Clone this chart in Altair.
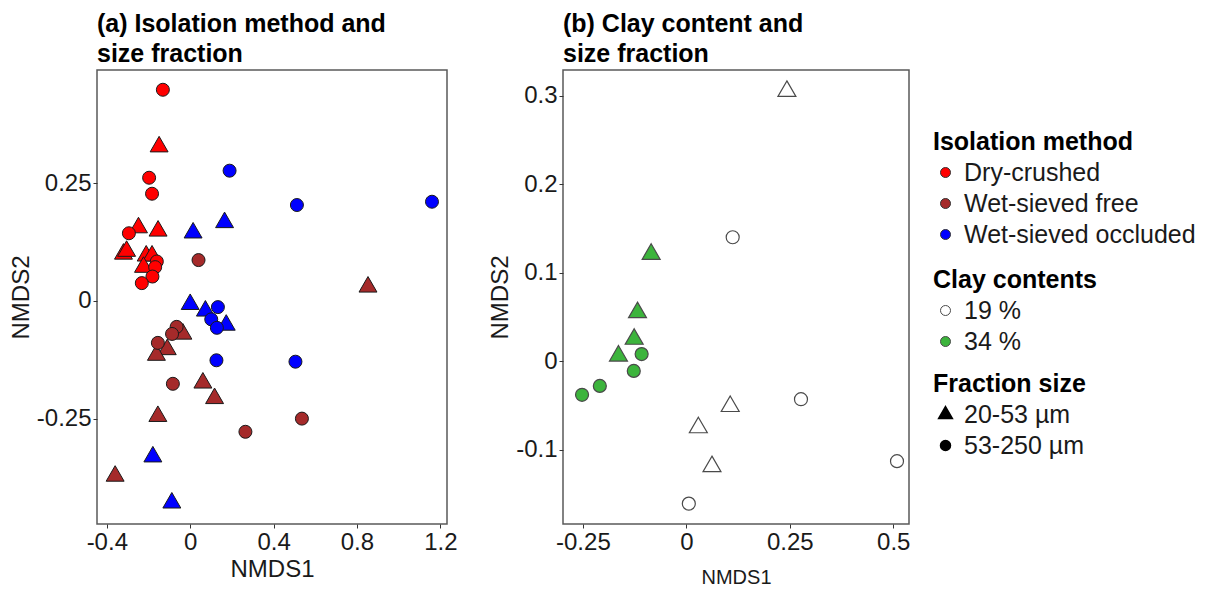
import altair as alt
import pandas as pd

FONT = "Liberation Sans"

METHODS = ["Dry-crushed", "Wet-sieved free", "Wet-sieved occluded"]
METHOD_COLORS = ["#FF0000", "#A52A2A", "#0000FF"]
FRACTIONS = ["20-53 µm", "53-250 µm"]
CLAYS = ["19 %", "34 %"]
CLAY_COLORS = ["#FFFFFF", "#3CB43C"]

# ---- panel (a): isolation method x size fraction ----
DC_TRI_X = [-0.149, -0.248, -0.154, -0.320, -0.305, -0.211, -0.183, -0.224]
DC_TRI_Y = [0.328, 0.156, 0.149, 0.100, 0.106, 0.096, 0.096, 0.072]
DC_CIR_X = [-0.131, -0.197, -0.183, -0.294, -0.160, -0.168, -0.181, -0.232]
DC_CIR_Y = [0.449, 0.262, 0.228, 0.144, 0.084, 0.072, 0.052, 0.038]
WF_TRI_X = [-0.035, -0.110, -0.162, 0.061, 0.117, -0.155, -0.360, 0.853]
WF_TRI_Y = [-0.070, -0.103, -0.115, -0.174, -0.207, -0.245, -0.372, 0.030]
WF_CIR_X = [0.040, -0.065, -0.087, -0.155, -0.083, 0.265, 0.536]
WF_CIR_Y = [0.087, -0.055, -0.070, -0.089, -0.176, -0.278, -0.250]
WO_TRI_X = [0.014, 0.165, 0.000, 0.073, 0.173, -0.179, -0.088]
WO_TRI_Y = [0.145, 0.167, -0.007, -0.021, -0.051, -0.331, -0.429]
WO_CIR_X = [0.189, 0.512, 1.160, 0.133, 0.101, 0.128, 0.126, 0.505]
WO_CIR_Y = [0.277, 0.204, 0.211, -0.013, -0.039, -0.057, -0.126, -0.129]

# ---- panel (b): clay content x size fraction ----
C19_TRI_X = [0.243, 0.106, 0.029, 0.062]
C19_TRI_Y = [0.305, -0.051, -0.075, -0.119]
C19_CIR_X = [0.112, 0.277, 0.509, 0.006]
C19_CIR_Y = [0.140, -0.043, -0.113, -0.161]
C34_TRI_X = [-0.085, -0.118, -0.126, -0.164]
C34_TRI_Y = [0.121, 0.055, 0.025, 0.006]
C34_CIR_X = [-0.108, -0.127, -0.209, -0.252]
C34_CIR_Y = [0.008, -0.011, -0.028, -0.038]

A_X_TICKS = [-0.4, 0, 0.4, 0.8, 1.2]
A_Y_TICKS = [-0.25, 0, 0.25]
B_X_TICKS = [-0.25, 0, 0.25, 0.5]
B_Y_TICKS = [-0.1, 0, 0.1, 0.2, 0.3]


def rows(xs, ys, **kw):
    return [dict(x=x, y=y, **kw) for x, y in zip(xs, ys)]


df_a = pd.DataFrame(
    rows(DC_TRI_X, DC_TRI_Y, method=METHODS[0], fraction=FRACTIONS[0])
    + rows(DC_CIR_X, DC_CIR_Y, method=METHODS[0], fraction=FRACTIONS[1])
    + rows(WF_TRI_X, WF_TRI_Y, method=METHODS[1], fraction=FRACTIONS[0])
    + rows(WF_CIR_X, WF_CIR_Y, method=METHODS[1], fraction=FRACTIONS[1])
    + rows(WO_TRI_X, WO_TRI_Y, method=METHODS[2], fraction=FRACTIONS[0])
    + rows(WO_CIR_X, WO_CIR_Y, method=METHODS[2], fraction=FRACTIONS[1])
)
df_b = pd.DataFrame(
    rows(C19_TRI_X, C19_TRI_Y, clay=CLAYS[0], fraction=FRACTIONS[0])
    + rows(C19_CIR_X, C19_CIR_Y, clay=CLAYS[0], fraction=FRACTIONS[1])
    + rows(C34_TRI_X, C34_TRI_Y, clay=CLAYS[1], fraction=FRACTIONS[0])
    + rows(C34_CIR_X, C34_CIR_Y, clay=CLAYS[1], fraction=FRACTIONS[1])
)

TRI = "M0,-1.59L1.38,0.8L-1.38,0.8Z"
shape_scale = alt.Scale(domain=FRACTIONS, range=[TRI, "circle"])

LEG = dict(
    orient="none",
    titleFont=FONT, titleFontSize=25, titleFontWeight="bold", titleColor="black",
    labelFont=FONT, labelFontSize=25, labelColor="#1a1a1a",
    labelLimit=500, titleLimit=500,
    symbolSize=100, rowPadding=5, titlePadding=5, symbolOffset=0, labelOffset=6,
)

LX = 836
shape_legend = alt.Legend(title="Fraction size", legendX=LX, legendY=302,
                          symbolFillColor="black", symbolStrokeColor="black", **LEG)

label_expr = "'' + datum.value"


def title(lines):
    return alt.TitleParams(text=lines, anchor="start", frame="group", font=FONT,
                           fontSize=25, fontWeight="bold", color="black",
                           lineHeight=30, offset=3)


pa = alt.Chart(df_a).mark_point(
    filled=True, size=169, stroke="#1a1a1a", strokeWidth=1, opacity=1, color="black"
).encode(
    x=alt.X("x:Q", scale=alt.Scale(domain=[-0.447, 1.232], nice=False, zero=False),
            axis=alt.Axis(values=A_X_TICKS, labelExpr=label_expr, title="NMDS1")),
    y=alt.Y("y:Q", scale=alt.Scale(domain=[-0.474, 0.491], nice=False, zero=False),
            axis=alt.Axis(values=A_Y_TICKS, labelExpr=label_expr, title="NMDS2")),
    color=alt.Color("method:N", scale=alt.Scale(domain=METHODS, range=METHOD_COLORS),
                    legend=alt.Legend(title="Isolation method", legendX=LX, legendY=60,
                                      symbolStrokeColor="#333333", symbolStrokeWidth=1, **LEG)),
    shape=alt.Shape("fraction:N", scale=shape_scale, legend=shape_legend),
).properties(width=350, height=454, title=title(["(a) Isolation method and", "size fraction"]))

pb = alt.Chart(df_b).mark_point(
    filled=True, size=169, stroke="#4a4a4a", strokeWidth=1.2, opacity=1, color="black"
).encode(
    x=alt.X("x:Q", scale=alt.Scale(domain=[-0.298, 0.538], nice=False, zero=False),
            axis=alt.Axis(values=B_X_TICKS, labelExpr=label_expr, title="NMDS1",
                          titleFontSize=20, titlePadding=13)),
    y=alt.Y("y:Q", scale=alt.Scale(domain=[-0.184, 0.329], nice=False, zero=False),
            axis=alt.Axis(values=B_Y_TICKS, labelExpr=label_expr, title="NMDS2")),
    fill=alt.Fill("clay:N", scale=alt.Scale(domain=CLAYS, range=CLAY_COLORS),
                  legend=alt.Legend(title="Clay contents", legendX=LX, legendY=198,
                                    symbolStrokeColor="#4a4a4a", symbolStrokeWidth=1, **LEG)),
    shape=alt.Shape("fraction:N", scale=shape_scale, legend=shape_legend),
).properties(width=346, height=454, title=title(["(b) Clay content and", "size fraction"]))

chart = alt.hconcat(pa, pb, spacing=29).properties(
    padding={"left": 8, "top": 11, "right": 5, "bottom": 5}
).configure_view(
    stroke="#595959", strokeWidth=1.5
).configure_axis(
    labelFont=FONT, labelFontSize=24, labelColor="#1a1a1a",
    titleFont=FONT, titleFontSize=24, titleFontWeight="normal", titleColor="#1a1a1a",
    tickColor="#333333", tickSize=4, tickWidth=1, domain=False, grid=False,
    labelPadding=2, titlePadding=3,
)

chart.save("out.html", embed_options={"renderer": "svg", "actions": False})
